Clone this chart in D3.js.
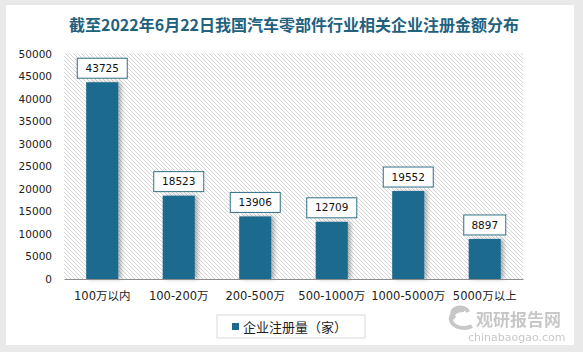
<!DOCTYPE html>
<html>
<head>
<meta charset="utf-8">
<script src="https://cdn.jsdelivr.net/npm/d3@7"></script>
<style>
  body { margin: 0; background: #e9e9e9; }
  svg { display: block; }
</style>
</head>
<body>
<svg id="chart"></svg>
<script>
const categories = ['100万以内', '100-200万', '200-500万', '500-1000万', '1000-5000万', '5000万以上'];
const values = [43725, 18523, 13906, 12709, 19552, 8897];
const yTicks = [0, 5000, 10000, 15000, 20000, 25000, 30000, 35000, 40000, 45000, 50000];
const title = '截至2022年6月22日我国汽车零部件行业相关企业注册金额分布';
const seriesName = '企业注册量（家）';

const svg = d3.select('#chart')
	.attr('width', 583)
	.attr('height', 352);

const barColor = '#1e6a8d',
	font = '"DejaVu Sans", "Noto Sans CJK SC", sans-serif';

const defs = svg.append('defs');
const pat = defs.append('pattern')
	.attr('id', 'hatch')
	.attr('patternUnits', 'userSpaceOnUse')
	.attr('width', 4).attr('height', 4);
pat.append('rect').attr('width', 4).attr('height', 4).attr('fill', '#fff');
pat.append('path')
	.attr('d', 'M-1,-1 L5,5 M-1,3 L1,5 M3,-1 L5,1')
	.attr('stroke', '#d6d6d6')
	.attr('stroke-width', 1);

const shadow = defs.append('filter').attr('id', 'shadow')
	.attr('x', '-20%').attr('y', '-10%').attr('width', '160%').attr('height', '130%');
shadow.append('feDropShadow')
	.attr('dx', 3).attr('dy', 0).attr('stdDeviation', 2)
	.attr('flood-color', '#000').attr('flood-opacity', 0.3);

// card
svg.append('rect')
	.attr('x', 6).attr('y', 5)
	.attr('width', 568).attr('height', 340)
	.attr('fill', '#fff');

svg.append('text')
	.attr('x', 294).attr('y', 31)
	.attr('text-anchor', 'middle')
	.attr('font-family', '"Noto Sans CJK SC", sans-serif')
	.attr('font-weight', 'bold')
	.attr('font-size', 16)
	.attr('fill', '#22617e')
	.text(title);

const x = d3.scaleBand()
	.domain(categories)
	.range([64, 523])
	.paddingInner(0.58)
	.paddingOuter(0.29);

const y = d3.scaleLinear()
	.domain([0, 50000])
	.range([279, 54]);

svg.append('rect')
	.attr('x', 64).attr('y', y(50000) - 1)
	.attr('width', 459).attr('height', y(0) - y(50000) + 1)
	.attr('fill', 'url(#hatch)');

const yAxis = d3.axisLeft(y)
	.tickValues(yTicks)
	.tickFormat(d3.format('d'))
	.tickSize(0)
	.tickPadding(12);
const yAxisG = svg.append('g')
	.attr('transform', 'translate(64,0)')
	.call(yAxis);
yAxisG.select('.domain').remove();
yAxisG.selectAll('text')
	.attr('font-family', font)
	.attr('font-size', 10.5)
	.attr('fill', '#222');

svg.append('g').selectAll('rect')
	.data(values)
	.enter().append('rect')
	.attr('x', (d, i) => x(categories[i]))
	.attr('y', d => y(d))
	.attr('width', x.bandwidth())
	.attr('height', d => y(0) - y(d))
	.attr('fill', barColor)
	.attr('filter', 'url(#shadow)');

const xAxis = d3.axisBottom(x)
	.tickSize(0)
	.tickPadding(13);
const xAxisG = svg.append('g')
	.attr('transform', 'translate(0,279)')
	.call(xAxis);
xAxisG.select('.domain')
	.attr('stroke', '#8c8c8c')
	.attr('stroke-width', 1.2);
xAxisG.selectAll('text')
	.attr('font-family', font)
	.attr('font-size', 11.5)
	.attr('fill', '#222');

const labels = svg.append('g').selectAll('g')
	.data(values)
	.enter().append('g')
	.attr('transform', (d, i) => `translate(${x(categories[i]) + x.bandwidth() / 2},${y(d) - 14})`);
labels.append('rect')
	.attr('x', d => -String(d).length * 4 - 5)
	.attr('y', -10)
	.attr('width', d => String(d).length * 8 + 10)
	.attr('height', 20)
	.attr('fill', '#fff')
	.attr('stroke', '#2f6f86')
	.attr('stroke-width', 1);
labels.append('text')
	.attr('text-anchor', 'middle')
	.attr('dy', '0.35em')
	.attr('font-family', font)
	.attr('font-size', 10.5)
	.attr('fill', '#111')
	.text(d => d);

// legend
const legend = svg.append('g').attr('transform', 'translate(217,315)');
legend.append('rect')
	.attr('width', 148).attr('height', 23)
	.attr('fill', '#fff')
	.attr('stroke', '#d9d9d9');
legend.append('rect')
	.attr('x', 15).attr('y', 8)
	.attr('width', 7).attr('height', 7)
	.attr('fill', barColor);
legend.append('text')
	.attr('x', 26).attr('y', 12)
	.attr('dy', '0.35em')
	.attr('font-family', '"Noto Sans CJK SC", sans-serif')
	.attr('font-size', 13)
	.attr('fill', '#222')
	.text(seriesName);

// watermark
const wm = svg.append('g').attr('opacity', 0.55);
wm.append('path')
	.attr('d', 'M464,310 a13,9 0 1,0 8,16 M455,318 a8,6 0 1,1 13,-6')
	.attr('fill', 'none')
	.attr('stroke', '#9a9a9a')
	.attr('stroke-width', 4);
wm.append('text')
	.attr('x', 476).attr('y', 326)
	.attr('font-family', '"Noto Sans CJK SC", sans-serif')
	.attr('font-weight', 'bold')
	.attr('font-size', 17)
	.attr('fill', '#9a9a9a')
	.text('观研报告网');
wm.append('text')
	.attr('x', 468).attr('y', 341)
	.attr('font-family', font)
	.attr('font-size', 11)
	.attr('fill', '#9a9a9a')
	.text('chinabaogao.com');
</script>
</body>
</html>
